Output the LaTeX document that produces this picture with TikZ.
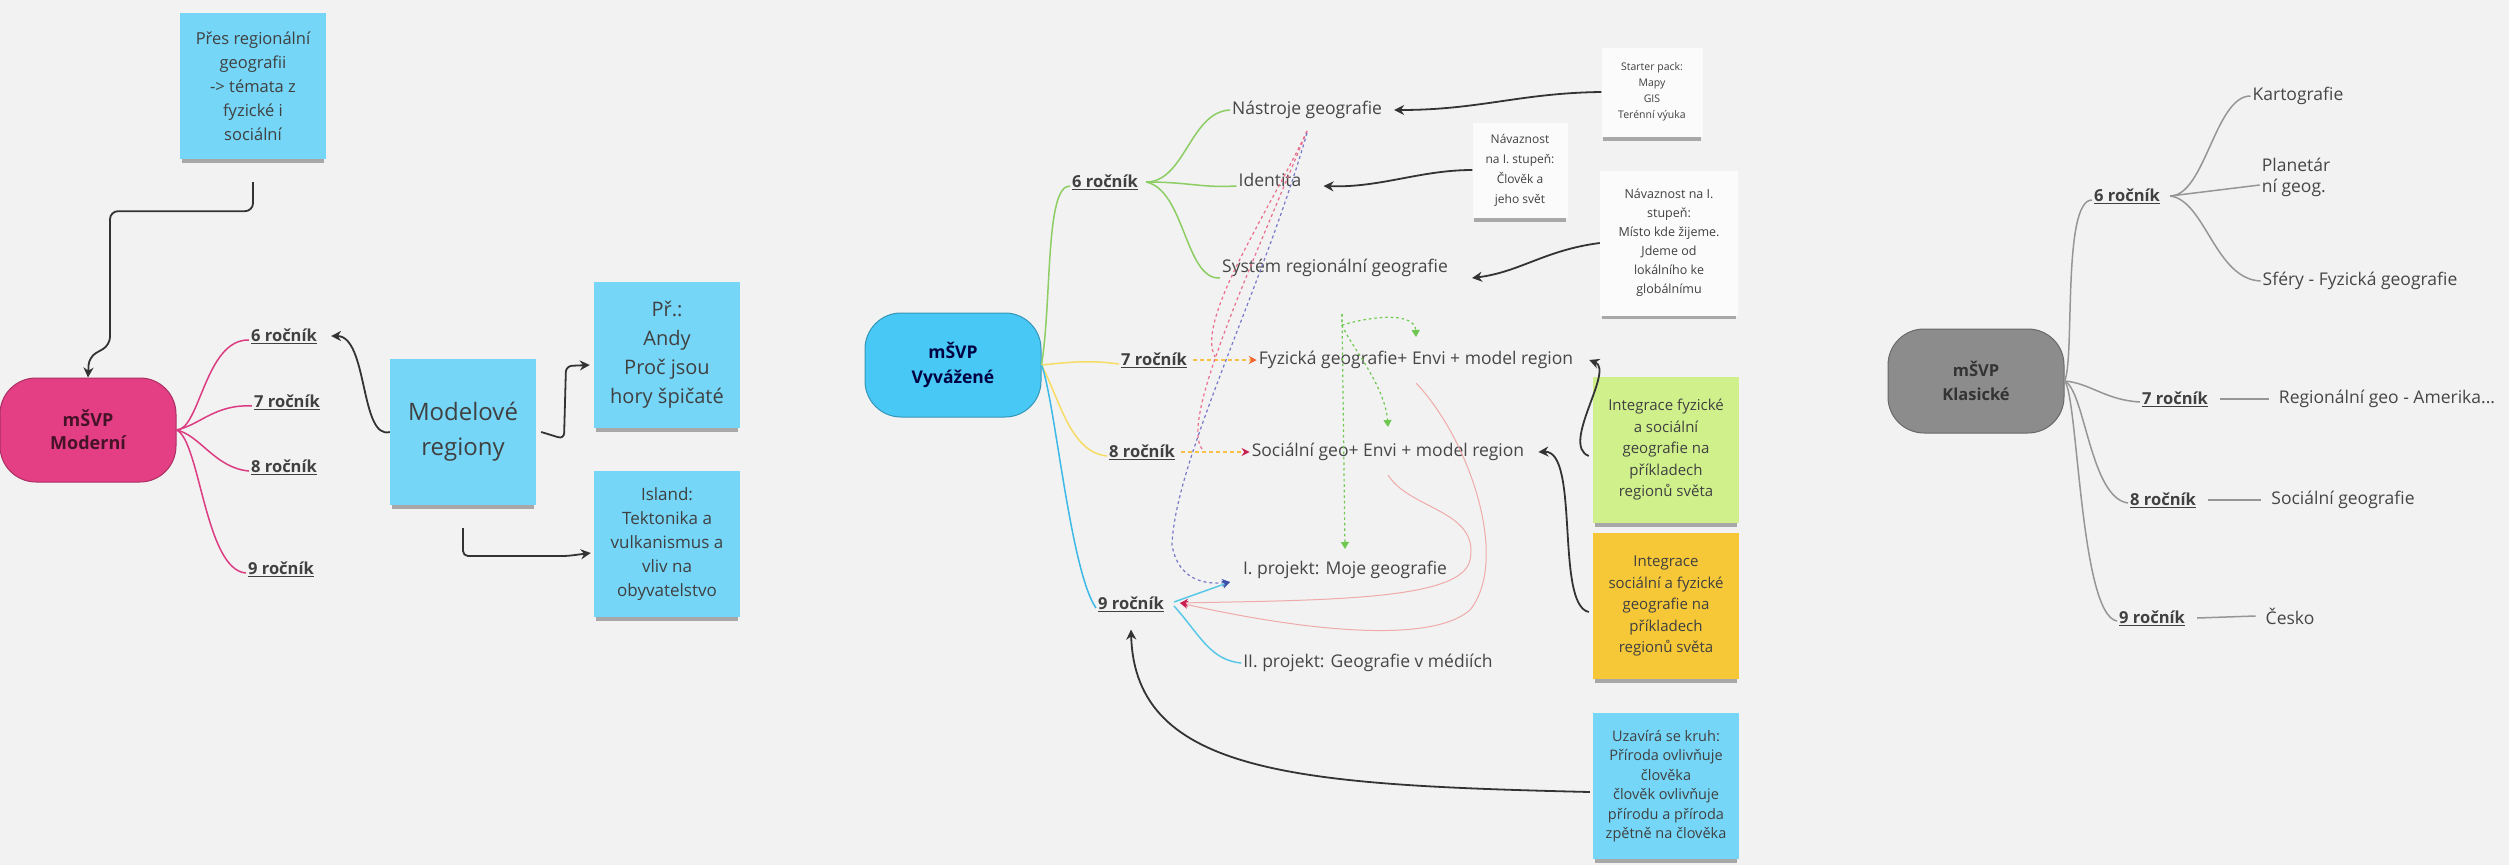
\documentclass[tikz,border=0pt]{standalone}
\usepackage{fontspec}
\setmainfont{Open Sans}
\usetikzlibrary{arrows.meta, shadows}

\definecolor{bgcol}{RGB}{242,242,242}
\definecolor{notecyan}{RGB}{117,214,248}
\definecolor{notegreen}{RGB}{208,240,140}
\definecolor{noteorange}{RGB}{246,200,55}
\definecolor{notewhite}{RGB}{251,251,251}
\definecolor{rootpink}{RGB}{228,62,132}
\definecolor{rootblue}{RGB}{72,200,245}
\definecolor{rootgrey}{RGB}{140,140,140}
\definecolor{brpink}{RGB}{220,60,130}
\definecolor{brgreen}{RGB}{140,205,100}
\definecolor{bryellow}{RGB}{246,220,100}
\definecolor{brblue}{RGB}{60,185,230}
\definecolor{brcyan}{RGB}{90,200,230}
\definecolor{brgrey}{RGB}{150,150,150}
\definecolor{salmon}{RGB}{240,170,170}
\definecolor{dashred}{RGB}{235,110,140}
\definecolor{dashblue}{RGB}{120,120,200}
\definecolor{dotgreen}{RGB}{110,200,80}
\definecolor{headorange}{RGB}{240,100,50}
\definecolor{headcrimson}{RGB}{200,30,80}
\definecolor{headnavy}{RGB}{60,80,170}
\definecolor{topictext}{RGB}{70,70,70}

\tikzset{
  sticky/.style={fill=#1, align=center, text=black!75, inner sep=0pt,
    minimum width=146pt, minimum height=146pt,
    drop shadow={shadow xshift=0pt, shadow yshift=-6pt, shadow scale=0.97, opacity=0.3, fill=black}},
  root/.style={draw=#1!75!black, line width=1pt, fill=#1, rounded corners=36pt,
    align=center, minimum width=176pt, minimum height=104pt},
  grade/.style={font=\bfseries\fontsize{16.5}{19}\selectfont, text=black!75, inner sep=2pt},
  topic/.style={font=\fontsize{17.5}{21}\selectfont, text=topictext, inner sep=2pt},
  link/.style={-{Stealth[length=10pt,width=10pt]}, line width=1.8pt, draw=black!80},
  branch/.style={line width=1.5pt, draw=#1},
  thinlink/.style={line width=1pt, draw=salmon, -{Stealth[length=8pt,width=8pt,color=headcrimson]}},
  dashlink/.style={line width=1.2pt, draw=#1, dash pattern=on 3pt off 3pt},
  dotlink/.style={line width=1.2pt, draw=dotgreen, dash pattern=on 2.5pt off 3pt,
    -{Triangle[length=7pt,width=8pt]}},
}

\begin{document}
\begin{tikzpicture}[x=1pt,y=-1pt]
    \fill[bgcol] (0,0) rectangle (2509,865);
    \useasboundingbox (0,0) rectangle (2509,865);

    % mSVP Moderni
    \node[sticky=notecyan, font=\fontsize{16.5}{24}\selectfont] (prehled) at (253,86)
        {Přes regionální\\geografii\\-> témata z\\fyzické i\\sociální};
    \node[root=rootpink, text=black!70!rootpink, font=\bfseries\fontsize{18}{23}\selectfont] (moderni) at (88,430) {mŠVP\\Moderní};
    \node[grade] (m6) at (284,336) {\underline{6 ročník}};
    \node[grade] (m7) at (287,402) {\underline{7 ročník}};
    \node[grade] (m8) at (284,467) {\underline{8 ročník}};
    \node[grade] (m9) at (281,569) {\underline{9 ročník}};
    \node[sticky=notecyan, font=\fontsize{24}{35}\selectfont] (modely) at (463,432) {Modelové\\regiony};
    \node[sticky=notecyan, font=\fontsize{20}{29}\selectfont] (priklad) at (667,355)
        {Př.:\\Andy\\Proč jsou\\hory špičaté};
    \node[sticky=notecyan, font=\fontsize{17}{24}\selectfont] (island) at (667,544)
        {Island:\\Tektonika a\\vulkanismus a\\vliv na\\obyvatelstvo};

    \draw[link, rounded corners=8pt] ([yshift=-23pt]prehled.south) -- ++(0,29) -| (110,345) -- (89,357) -- (moderni.north);
    \draw[branch=brpink] (moderni.east) .. controls (200,430) and (205,339) .. ([yshift=-4pt]m6.west);
    \draw[branch=brpink] (moderni.east) .. controls (200,425) and (215,404) .. ([yshift=-4pt]m7.west);
    \draw[branch=brpink] (moderni.east) .. controls (200,435) and (215,468) .. ([yshift=-4pt]m8.west);
    \draw[branch=brpink] (moderni.east) .. controls (200,440) and (205,570) .. ([yshift=-4pt]m9.west);
    \draw[link] (modely.west) .. controls (360,440) and (368,336) .. ([xshift=12pt]m6.east);
    \draw[link, rounded corners=6pt] ([xshift=5pt]modely.east) -- (564,439) -- (566,366) -- ([xshift=-4pt,yshift=-10pt]priklad.west);
    \draw[link, rounded corners=5pt] ([yshift=-23pt]modely.south) |- (567,556) -- ([xshift=-3pt,yshift=-9pt]island.west);

    % mSVP Vyvazene
    \node[root=rootblue, text=black!75!blue, font=\bfseries\fontsize{17.5}{25}\selectfont] (vyvaz) at (953,365) {mŠVP\\Vyvážené};
    \node[grade] (v6) at (1105,182) {\underline{6 ročník}};
    \node[grade] (v7) at (1154,360) {\underline{7 ročník}};
    \node[grade] (v8) at (1142,452) {\underline{8 ročník}};
    \node[grade] (v9) at (1131,604) {\underline{9 ročník}};
    \node[topic] (nastroje) at (1307,110) {Nástroje geografie};
    \node[topic] (identita) at (1270,180) {Identita};
    \node[topic] (system) at (1335,268) {Systém regionální geografie};
    \node[topic] (fyz) at (1416,360) {Fyzická geografie+ Envi + model region};
    \node[topic] (soc) at (1388,452) {Sociální geo+ Envi + model region};
    \node[topic] (proj1) at (1345,570) {I. projekt: Moje geografie};
    \node[topic] (proj2) at (1368,663) {II. projekt: Geografie v médiích};
    \node[sticky=notewhite, minimum width=101pt, minimum height=89pt, font=\fontsize{10.5}{16}\selectfont] (starter) at (1652,92)
        {Starter pack:\\Mapy\\GIS\\Terénní výuka};
    \node[sticky=notewhite, minimum width=95pt, minimum height=95pt, font=\fontsize{12}{20}\selectfont] (navaz1) at (1520,170)
        {Návaznost\\na I. stupeň:\\Člověk a\\jeho svět};
    \node[sticky=notewhite, minimum width=138pt, minimum height=145pt, font=\fontsize{12.5}{19}\selectfont] (navaz2) at (1669,243)
        {Návaznost na I.\\stupeň:\\Místo kde žijeme.\\Jdeme od\\lokálního ke\\globálnímu};
    \node[sticky=notegreen, font=\fontsize{15}{21.5}\selectfont] (integr1) at (1666,450)
        {Integrace fyzické\\a sociální\\geografie na\\příkladech\\regionů světa};
    \node[sticky=noteorange, font=\fontsize{15}{21.5}\selectfont] (integr2) at (1666,606)
        {Integrace\\sociální a fyzické\\geografie na\\příkladech\\regionů světa};
    \node[sticky=notecyan, font=\fontsize{14.5}{19.5}\selectfont] (kruh) at (1666,786)
        {Uzavírá se kruh:\\Příroda ovlivňuje\\člověka\\člověk ovlivňuje\\přírodu a příroda\\zpětně na člověka};

    \coordinate (a7) at (1215,357);
    \coordinate (a8) at (1202,449);
    \coordinate (p1in) at (1230,582);
    \coordinate (v9in) at (1180,603);
    \coordinate (g0) at (1342,314);

    \draw[branch=brgreen] (vyvaz.east) .. controls (1052,300) and (1045,185) .. ([yshift=-4pt]v6.west);
    \draw[branch=bryellow] (vyvaz.east) .. controls (1070,362) and (1090,360) .. ([yshift=-4pt]v7.west);
    \draw[branch=bryellow] (vyvaz.east) .. controls (1060,400) and (1070,452) .. ([yshift=-4pt]v8.west);
    \draw[branch=brblue] (vyvaz.east) .. controls (1055,400) and (1070,570) .. ([yshift=-4pt]v9.west);
    \draw[branch=brgreen] ([xshift=6pt]v6.east) .. controls (1185,182) and (1190,112) .. (nastroje.west);
    \draw[branch=brgreen] ([xshift=6pt]v6.east) .. controls (1190,182) and (1200,188) .. ([yshift=-6pt]identita.west);
    \draw[branch=brgreen] ([xshift=6pt]v6.east) .. controls (1185,190) and (1185,280) .. ([yshift=-10pt]system.west);
    \draw[line width=1.3pt, draw=bryellow!70!orange, dash pattern=on 4pt off 3pt,
        -{Stealth[length=8pt,width=8pt,color=headorange]}] ([xshift=4pt]v7.east) -- (fyz.west);
    \draw[line width=1.3pt, draw=bryellow!70!orange, dash pattern=on 4pt off 3pt,
        -{Stealth[length=8pt,width=8pt,color=headcrimson]}] ([xshift=4pt]v8.east) -- (soc.west);
    \draw[dashlink=dashred] ([yshift=-10pt]nastroje.south) .. controls (1270,210) and (1195,320) .. (a7);
    \draw[dashlink=dashred] ([yshift=-10pt]nastroje.south) .. controls (1250,270) and (1180,420) .. (a8);
    \draw[dashlink=dashblue, -{Stealth[length=8pt,width=8pt,color=headnavy]}] ([yshift=-12pt]nastroje.south) .. controls (1262,290) and (1175,460) .. (1172,545) .. controls (1178,580) and (1205,585) .. (p1in);
    \draw[dotlink] (g0) -- (1342,325) .. controls (1380,314) and (1415,314) .. ([yshift=12pt]fyz.north);
    \draw[dotlink] (1342,325) .. controls (1350,345) and (1385,385) .. ([yshift=14pt]soc.north);
    \draw[dotlink] (g0) -- ([yshift=10pt]proj1.north);
    \draw[thinlink] ([yshift=-12pt]fyz.south) .. controls (1470,440) and (1510,560) .. (1470,610) .. controls (1430,645) and (1300,630) .. (v9in);
    \draw[thinlink] ([yshift=-12pt]soc.south) .. controls (1410,510) and (1480,510) .. (1470,560) .. controls (1462,600) and (1330,600) .. (v9in);
    \draw[line width=1.5pt, draw=brcyan, -{Stealth[length=8pt,width=8pt,color=headnavy]}] ([xshift=8pt,yshift=2pt]v9.east) -- (p1in);
    \draw[branch=brcyan] ([xshift=8pt,yshift=-2pt]v9.east) .. controls (1200,635) and (1210,660) .. (proj2.west);
    \draw[link] (starter.west) .. controls (1520,93) and (1480,110) .. ([xshift=10pt]nastroje.east);
    \draw[link] (navaz1.west) .. controls (1420,170) and (1380,188) .. ([xshift=20pt,yshift=-6pt]identita.east);
    \draw[link] (navaz2.west) .. controls (1545,250) and (1520,272) .. ([xshift=22pt,yshift=-10pt]system.east);
    \draw[link] ([xshift=-4pt,yshift=-6pt]integr1.west) .. controls (1560,445) and (1615,370) .. ([xshift=14pt]fyz.east);
    \draw[link] ([xshift=-4pt,yshift=-6pt]integr2.west) .. controls (1555,605) and (1580,450) .. ([xshift=12pt]soc.east);
    \draw[link] ([xshift=-3pt,yshift=-6pt]kruh.west) .. controls (1300,785) and (1135,775) .. ([yshift=-16pt]v9.south);

    % mSVP Klasicke
    \node[root=rootgrey, text=black!80, font=\bfseries\fontsize{16.5}{24.5}\selectfont] (klas) at (1976,381) {mŠVP\\Klasické};
    \node[grade] (k6) at (2127,196) {\underline{6 ročník}};
    \node[grade] (k7) at (2175,399) {\underline{7 ročník}};
    \node[grade] (k8) at (2163,500) {\underline{8 ročník}};
    \node[grade] (k9) at (2152,618) {\underline{9 ročník}};
    \node[topic] (kart) at (2298,96) {Kartografie};
    \node[topic, align=left] (planet) at (2296,177) {Planetár\\ní geog.};
    \node[topic] (sfery) at (2360,281) {Sféry - Fyzická geografie};
    \node[topic] (amer) at (2387,399) {Regionální geo - Amerika...};
    \node[topic] (socg) at (2343,500) {Sociální geografie};
    \node[topic] (cesko) at (2290,616) {Česko};

    \draw[branch=brgrey] (klas.east) .. controls (2075,360) and (2062,200) .. ([yshift=-4pt]k6.west);
    \draw[branch=brgrey] (klas.east) .. controls (2090,383) and (2105,400) .. ([yshift=-3pt]k7.west);
    \draw[branch=brgrey] (klas.east) .. controls (2085,390) and (2090,498) .. ([yshift=-3pt]k8.west);
    \draw[branch=brgrey] (klas.east) .. controls (2078,395) and (2080,615) .. ([yshift=-3pt]k9.west);
    \draw[branch=brgrey] ([xshift=8pt]k6.east) .. controls (2205,196) and (2215,96) .. (kart.west);
    \draw[branch=brgrey] ([xshift=8pt]k6.east) -- ([yshift=-8pt]planet.west);
    \draw[branch=brgrey] ([xshift=8pt]k6.east) .. controls (2205,200) and (2215,279) .. (sfery.west);
    \draw[branch=brgrey] ([xshift=10pt]k7.east) -- ([xshift=-8pt]amer.west);
    \draw[branch=brgrey] ([xshift=10pt]k8.east) -- ([xshift=-8pt]socg.west);
    \draw[branch=brgrey] ([xshift=10pt]k9.east) -- ([xshift=-8pt]cesko.west);
\end{tikzpicture}
\end{document}
